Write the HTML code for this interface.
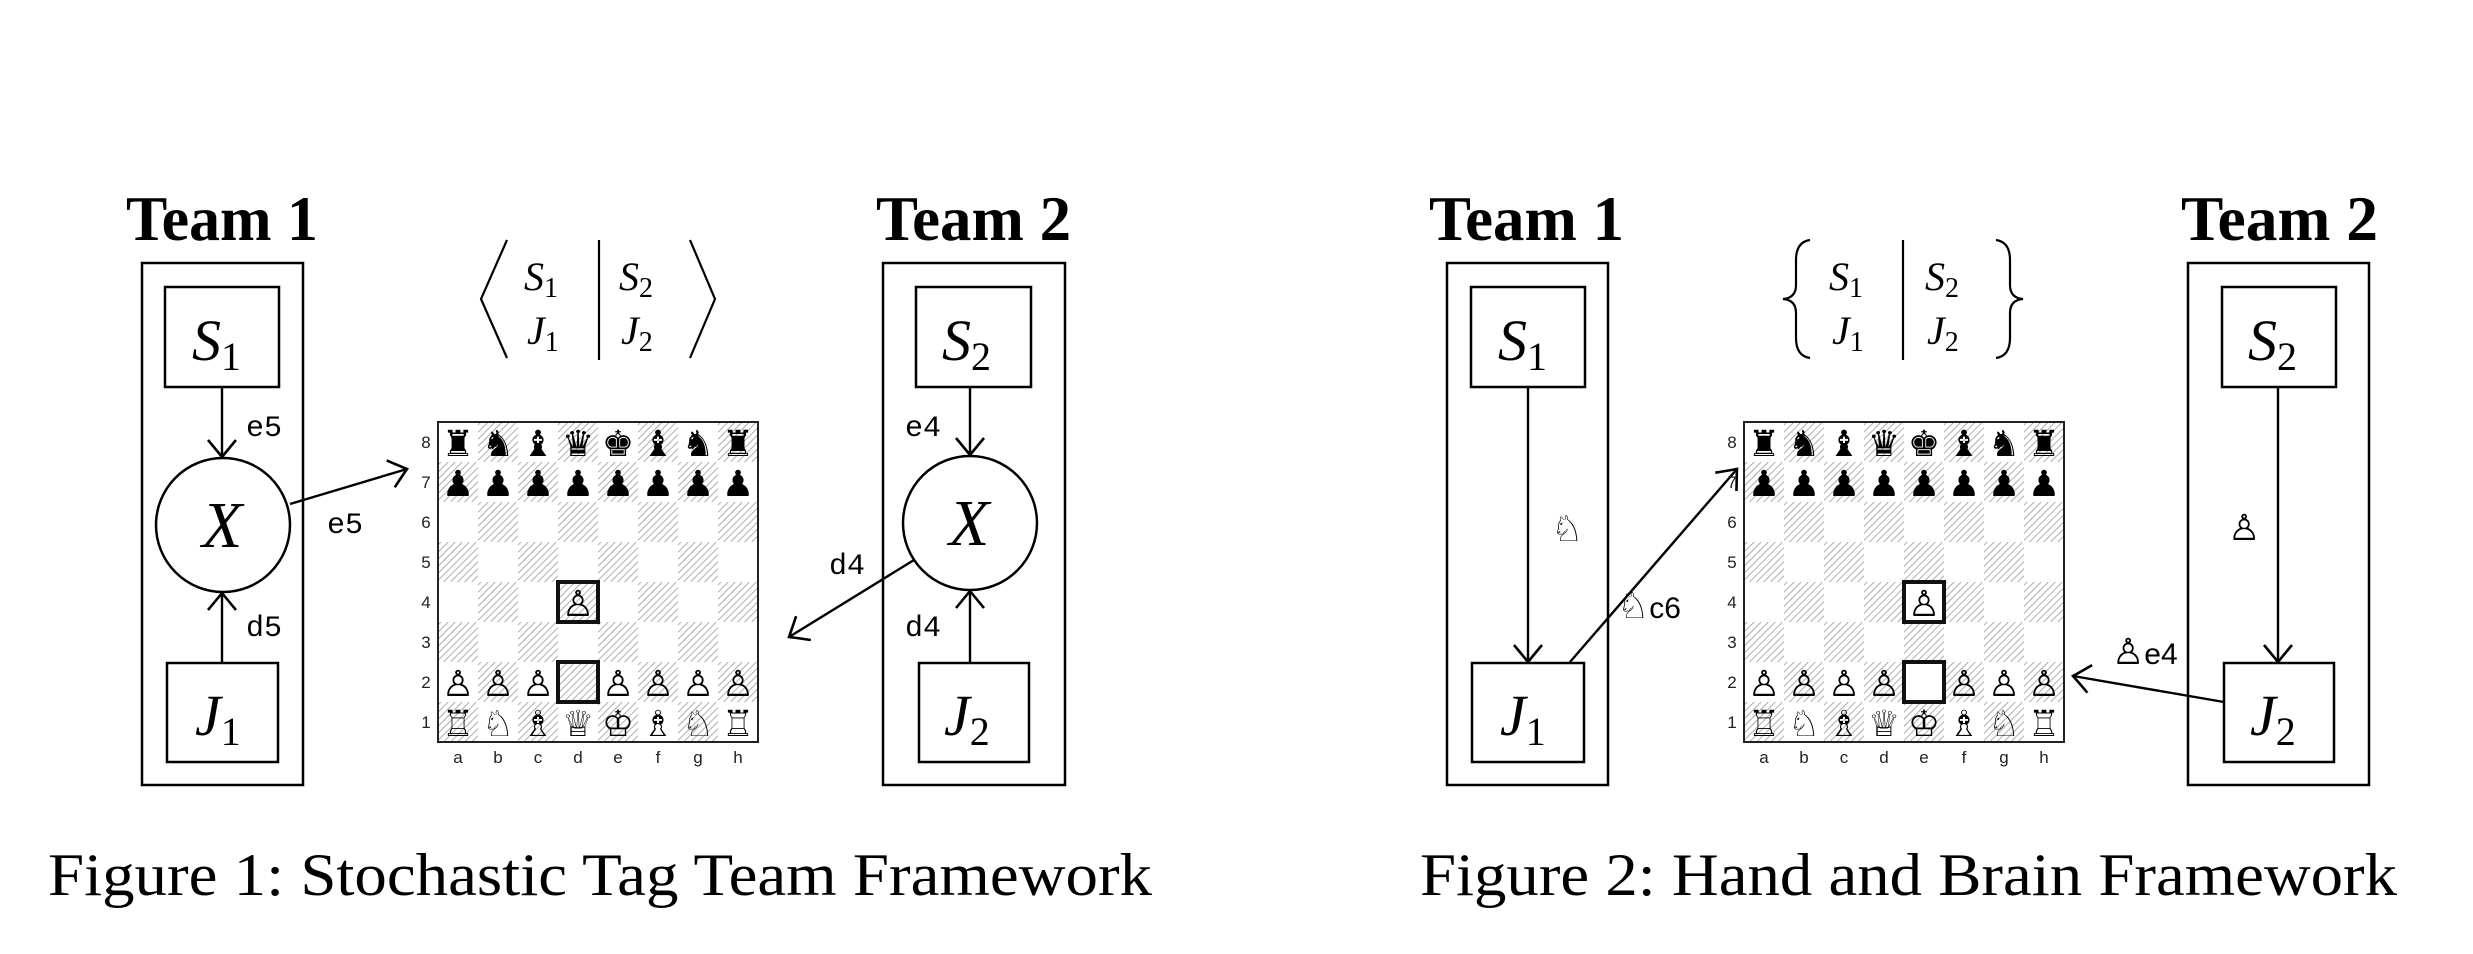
<!DOCTYPE html>
<html><head><meta charset="utf-8"><style>
html,body{margin:0;padding:0;background:#fff}
svg{display:block}
.team{font-family:"Liberation Serif",serif;font-weight:bold;font-size:64px}
.cap{font-family:"Liberation Serif",serif;font-size:60px}
.m{font-family:"Liberation Serif",serif;font-style:italic}
.sub{font-family:"Liberation Serif",serif;font-style:normal}
.tt{font-family:"Liberation Mono",monospace;font-size:30px}
.pc{font-family:"DejaVu Sans",sans-serif;font-size:36px}
.lbl{font-family:"Liberation Sans",sans-serif;font-size:17px;fill:#222}
.ss{font-family:"Liberation Sans","DejaVu Sans",sans-serif;font-size:30px}
</style></head><body>
<svg width="2473" height="954" viewBox="0 0 2473 954" xmlns="http://www.w3.org/2000/svg">
<defs>
<pattern id="hatch" patternUnits="userSpaceOnUse" width="5" height="5" patternTransform="rotate(45)">
<rect width="5" height="5" fill="#fff"/><line x1="0" y1="0" x2="0" y2="5" stroke="#999" stroke-width="1.6"/>
</pattern>
<pattern id="board1" patternUnits="userSpaceOnUse" x="438" y="422" width="80" height="80">
<rect width="80" height="80" fill="#fff"/><rect x="40" y="0" width="40" height="40" fill="url(#hatch)"/><rect x="0" y="40" width="40" height="40" fill="url(#hatch)"/>
</pattern>
<pattern id="board2" patternUnits="userSpaceOnUse" x="1744" y="422" width="80" height="80">
<rect width="80" height="80" fill="#fff"/><rect x="40" y="0" width="40" height="40" fill="url(#hatch)"/><rect x="0" y="40" width="40" height="40" fill="url(#hatch)"/>
</pattern>
<marker id="ah" markerUnits="userSpaceOnUse" markerWidth="40" markerHeight="40" refX="0" refY="0" viewBox="-20 -20 40 40" orient="auto">
<path d="M-17,-14 Q-5,-4 0,0 Q-5,4 -17,14" fill="none" stroke="#000" stroke-width="2.6"/>
</marker>
</defs>
<g fill="none" stroke="#000" stroke-width="2.5">
<rect x="142" y="263" width="161" height="522"/>
<rect x="165" y="287" width="114" height="100"/>
<rect x="167" y="663" width="111" height="99"/>
<circle cx="223" cy="525" r="67"/>
<rect x="883" y="263" width="182" height="522"/>
<rect x="916" y="287" width="115" height="100"/>
<rect x="919" y="663" width="110" height="99"/>
<circle cx="970" cy="523" r="67"/>
<rect x="1447" y="263" width="161" height="522"/>
<rect x="1471" y="287" width="114" height="100"/>
<rect x="1472" y="663" width="112" height="99"/>
<rect x="2188" y="263" width="181" height="522"/>
<rect x="2222" y="287" width="114" height="100"/>
<rect x="2224" y="663" width="110" height="99"/>
</g>
<g stroke="#000" stroke-width="2.4" fill="none" marker-end="url(#ah)">
<line x1="222" y1="387" x2="222" y2="457"/>
<line x1="222" y1="663" x2="222" y2="593"/>
<line x1="290" y1="504" x2="407" y2="469"/>
<line x1="970" y1="387" x2="970" y2="455"/>
<line x1="970" y1="663" x2="970" y2="591"/>
<line x1="914" y1="560" x2="789" y2="637"/>
<line x1="1528" y1="387" x2="1528" y2="662"/>
<line x1="2278" y1="387" x2="2278" y2="662"/>
<line x1="1570" y1="662" x2="1737" y2="469"/>
<line x1="2224" y1="702" x2="2073" y2="676"/>
</g>
<g fill="none" stroke="#000" stroke-width="2.2">
<polyline points="507,240 481,299 507,358"/>
<polyline points="690,240 715,299 690,358"/>
<line x1="599" y1="240" x2="599" y2="360"/>
<path d="M1810,240 Q1796,242 1796,260 L1796,285 Q1796,298 1783,299 Q1796,300 1796,313 L1796,338 Q1796,356 1810,358"/>
<path d="M1996,240 Q2010,242 2010,260 L2010,285 Q2010,298 2023,299 Q2010,300 2010,313 L2010,338 Q2010,356 1996,358"/>
<line x1="1903" y1="240" x2="1903" y2="360"/>
</g>
<text class="team" x="126" y="240" textLength="192" lengthAdjust="spacingAndGlyphs">Team 1</text>
<text class="team" x="876" y="240" textLength="195" lengthAdjust="spacingAndGlyphs">Team 2</text>
<text class="team" x="1429" y="240" textLength="195" lengthAdjust="spacingAndGlyphs">Team 1</text>
<text class="team" x="2181" y="240" textLength="197" lengthAdjust="spacingAndGlyphs">Team 2</text>
<g font-size="58">
<text class="m" x="192" y="360">S<tspan class="sub" font-size="40" dy="10">1</tspan></text>
<text class="m" x="195" y="735">J<tspan class="sub" font-size="40" dy="10">1</tspan></text>
<text class="m" x="942" y="360">S<tspan class="sub" font-size="40" dy="10">2</tspan></text>
<text class="m" x="944" y="735">J<tspan class="sub" font-size="40" dy="10">2</tspan></text>
<text class="m" x="1498" y="360">S<tspan class="sub" font-size="40" dy="10">1</tspan></text>
<text class="m" x="1500" y="735">J<tspan class="sub" font-size="40" dy="10">1</tspan></text>
<text class="m" x="2248" y="360">S<tspan class="sub" font-size="40" dy="10">2</tspan></text>
<text class="m" x="2250" y="735">J<tspan class="sub" font-size="40" dy="10">2</tspan></text>
</g>
<text class="m" x="202" y="547" font-size="66">X</text>
<text class="m" x="949" y="545" font-size="66">X</text>
<g font-size="40">
<text class="m" x="524" y="290">S<tspan class="sub" font-size="28" dy="7">1</tspan></text>
<text class="m" x="527" y="344">J<tspan class="sub" font-size="28" dy="7">1</tspan></text>
<text class="m" x="619" y="290">S<tspan class="sub" font-size="28" dy="7">2</tspan></text>
<text class="m" x="621" y="344">J<tspan class="sub" font-size="28" dy="7">2</tspan></text>
<text class="m" x="1829" y="290">S<tspan class="sub" font-size="28" dy="7">1</tspan></text>
<text class="m" x="1832" y="344">J<tspan class="sub" font-size="28" dy="7">1</tspan></text>
<text class="m" x="1925" y="290">S<tspan class="sub" font-size="28" dy="7">2</tspan></text>
<text class="m" x="1927" y="344">J<tspan class="sub" font-size="28" dy="7">2</tspan></text>
</g>
<text class="tt" x="246" y="436">e5</text>
<text class="tt" x="246" y="636">d5</text>
<text class="tt" x="327" y="533">e5</text>
<text class="tt" x="905" y="436">e4</text>
<text class="tt" x="905" y="636">d4</text>
<text class="tt" x="829" y="574">d4</text>
<text class="pc" x="1551" y="541" font-size="40">♘</text>
<text class="ss" x="1617" y="618"><tspan class="pc" font-size="40">♘</tspan>c6</text>
<text class="pc" x="2228" y="540" font-size="32">♙</text>
<text class="ss" x="2112" y="664"><tspan class="pc" font-size="34">♙</tspan>e4</text>
<rect x="438" y="422" width="320" height="320" fill="url(#board1)" stroke="#222" stroke-width="2"/>
<g class="pc" text-anchor="middle">
<text x="458 498 538 578 618 658 698 738" y="456">♜♞♝♛♚♝♞♜</text>
<text x="458 498 538 578 618 658 698 738" y="496">♟♟♟♟♟♟♟♟</text>
<text x="578" y="616">♙</text>
<text x="458 498 538 618 658 698 738" y="696">♙♙♙♙♙♙♙</text>
<text x="458 498 538 578 618 658 698 738" y="736">♖♘♗♕♔♗♘♖</text>
</g>
<rect x="558" y="582" width="40" height="40" fill="none" stroke="#111" stroke-width="4"/>
<rect x="558" y="662" width="40" height="40" fill="none" stroke="#111" stroke-width="4"/>
<g class="lbl" text-anchor="middle">
<text x="426" y="448">8</text><text x="426" y="488">7</text><text x="426" y="528">6</text><text x="426" y="568">5</text>
<text x="426" y="608">4</text><text x="426" y="648">3</text><text x="426" y="688">2</text><text x="426" y="728">1</text>
<text x="458 498 538 578 618 658 698 738" y="763">abcdefgh</text>
</g>
<rect x="1744" y="422" width="320" height="320" fill="url(#board2)" stroke="#222" stroke-width="2"/>
<g class="pc" text-anchor="middle">
<text x="1764 1804 1844 1884 1924 1964 2004 2044" y="456">♜♞♝♛♚♝♞♜</text>
<text x="1764 1804 1844 1884 1924 1964 2004 2044" y="496">♟♟♟♟♟♟♟♟</text>
<text x="1924" y="616">♙</text>
<text x="1764 1804 1844 1884 1964 2004 2044" y="696">♙♙♙♙♙♙♙</text>
<text x="1764 1804 1844 1884 1924 1964 2004 2044" y="736">♖♘♗♕♔♗♘♖</text>
</g>
<rect x="1904" y="582" width="40" height="40" fill="none" stroke="#111" stroke-width="4"/>
<rect x="1904" y="662" width="40" height="40" fill="#fff" stroke="#111" stroke-width="4"/>
<g class="lbl" text-anchor="middle">
<text x="1732" y="448">8</text><text x="1732" y="488">7</text><text x="1732" y="528">6</text><text x="1732" y="568">5</text>
<text x="1732" y="608">4</text><text x="1732" y="648">3</text><text x="1732" y="688">2</text><text x="1732" y="728">1</text>
<text x="1764 1804 1844 1884 1924 1964 2004 2044" y="763">abcdefgh</text>
</g>
<text class="cap" x="48" y="895" textLength="1104" lengthAdjust="spacingAndGlyphs">Figure 1: Stochastic Tag Team Framework</text>
<text class="cap" x="1420" y="895" textLength="977" lengthAdjust="spacingAndGlyphs">Figure 2: Hand and Brain Framework</text>
</svg>
</body></html>
